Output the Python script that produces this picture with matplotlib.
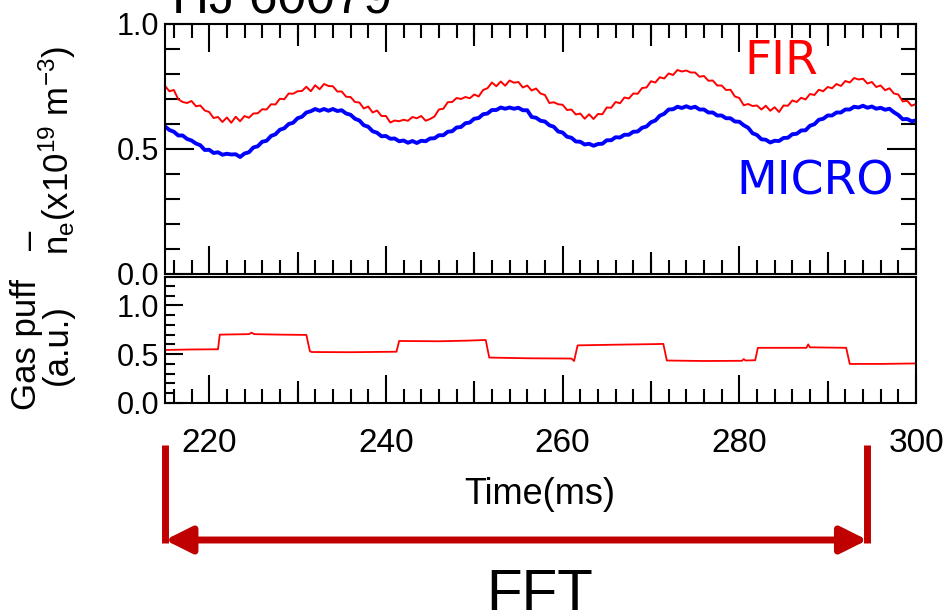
import numpy as np
import matplotlib
matplotlib.use("Agg")
import matplotlib.pyplot as plt
import matplotlib.transforms as mtransforms
from matplotlib import font_manager
from matplotlib.ticker import MultipleLocator, NullFormatter

# ---- data ----
shot = "HJ 60079"
time_step = 0.5
time = np.arange(215.0, 300.0 + 0.01, time_step)

fir = [0.752, 0.731, 0.736, 0.699, 0.688, 0.684, 0.692, 0.671, 0.674, 0.654,
       0.648, 0.624, 0.628, 0.608, 0.626, 0.605, 0.629, 0.611, 0.632, 0.625,
       0.642, 0.643, 0.659, 0.658, 0.679, 0.678, 0.701, 0.699, 0.722, 0.721,
       0.731, 0.732, 0.749, 0.731, 0.755, 0.739, 0.760, 0.752, 0.751, 0.730,
       0.730, 0.709, 0.708, 0.688, 0.686, 0.662, 0.670, 0.646, 0.654, 0.632,
       0.632, 0.606, 0.614, 0.611, 0.617, 0.613, 0.628, 0.623, 0.632, 0.613,
       0.620, 0.630, 0.658, 0.661, 0.687, 0.688, 0.704, 0.700, 0.708, 0.703,
       0.718, 0.710, 0.736, 0.743, 0.766, 0.751, 0.770, 0.753, 0.774, 0.765,
       0.768, 0.746, 0.754, 0.734, 0.742, 0.722, 0.716, 0.684, 0.687, 0.679,
       0.677, 0.656, 0.658, 0.638, 0.642, 0.621, 0.639, 0.620, 0.640, 0.639,
       0.666, 0.665, 0.688, 0.683, 0.706, 0.702, 0.722, 0.721, 0.744, 0.746,
       0.771, 0.766, 0.787, 0.782, 0.802, 0.796, 0.816, 0.810, 0.814, 0.806,
       0.806, 0.789, 0.792, 0.773, 0.774, 0.754, 0.754, 0.736, 0.737, 0.710,
       0.704, 0.675, 0.680, 0.672, 0.674, 0.658, 0.673, 0.653, 0.667, 0.648,
       0.674, 0.673, 0.694, 0.688, 0.705, 0.698, 0.720, 0.716, 0.737, 0.731,
       0.748, 0.743, 0.760, 0.752, 0.772, 0.766, 0.784, 0.778, 0.781, 0.762,
       0.768, 0.748, 0.754, 0.735, 0.743, 0.722, 0.718, 0.690, 0.693, 0.673,
       0.680]

micro = [0.590, 0.576, 0.569, 0.554, 0.554, 0.540, 0.534, 0.522, 0.515, 0.496,
         0.497, 0.484, 0.487, 0.477, 0.481, 0.478, 0.479, 0.468, 0.482, 0.487,
         0.506, 0.511, 0.529, 0.533, 0.552, 0.559, 0.577, 0.583, 0.600, 0.605,
         0.623, 0.629, 0.646, 0.651, 0.660, 0.653, 0.660, 0.653, 0.660, 0.652,
         0.655, 0.642, 0.637, 0.621, 0.614, 0.595, 0.589, 0.571, 0.565, 0.551,
         0.552, 0.541, 0.542, 0.531, 0.534, 0.525, 0.532, 0.524, 0.533, 0.531,
         0.542, 0.543, 0.555, 0.555, 0.569, 0.571, 0.586, 0.588, 0.603, 0.606,
         0.621, 0.624, 0.639, 0.642, 0.656, 0.656, 0.666, 0.661, 0.666, 0.661,
         0.665, 0.655, 0.655, 0.628, 0.625, 0.613, 0.610, 0.595, 0.589, 0.570,
         0.566, 0.549, 0.545, 0.530, 0.529, 0.518, 0.521, 0.513, 0.520, 0.521,
         0.535, 0.535, 0.547, 0.546, 0.557, 0.557, 0.569, 0.570, 0.585, 0.590,
         0.607, 0.614, 0.633, 0.641, 0.658, 0.659, 0.669, 0.664, 0.671, 0.664,
         0.669, 0.658, 0.658, 0.646, 0.646, 0.634, 0.634, 0.623, 0.623, 0.610,
         0.609, 0.595, 0.585, 0.563, 0.556, 0.539, 0.537, 0.526, 0.533, 0.532,
         0.544, 0.545, 0.559, 0.561, 0.574, 0.575, 0.593, 0.599, 0.617, 0.621,
         0.634, 0.634, 0.646, 0.646, 0.658, 0.658, 0.669, 0.666, 0.673, 0.665,
         0.670, 0.661, 0.665, 0.657, 0.661, 0.647, 0.636, 0.619, 0.620, 0.611,
         0.614]

gas_t = [215.0, 218.0, 221.0, 221.2, 224.5, 224.8, 225.1, 228.0, 231.0,
         231.4, 231.6, 236.0, 241.2, 241.5, 246.0, 249.0, 251.3, 251.7,
         256.0, 261.0, 261.3, 261.7, 266.0, 270.5, 271.4, 271.8, 276.0,
         280.3, 280.5, 280.7, 281.8, 282.1, 286.0, 287.6, 287.8, 288.0,
         292.1, 292.5, 296.0, 300.0]
gas = [0.543, 0.548, 0.550, 0.700, 0.705, 0.720, 0.705, 0.700, 0.697,
       0.530, 0.522, 0.520, 0.525, 0.635, 0.632, 0.638, 0.645, 0.465,
       0.458, 0.455, 0.430, 0.590, 0.597, 0.603, 0.605, 0.435, 0.430,
       0.432, 0.450, 0.435, 0.438, 0.565, 0.565, 0.565, 0.600, 0.570,
       0.565, 0.400, 0.400, 0.405]

fft_start, fft_end = 215.0, 294.5

# ---- fonts ----
names = {f.name for f in font_manager.fontManager.ttflist}
sans = "Liberation Sans"
narrow = "Liberation Sans Narrow" if "Liberation Sans Narrow" in names else sans
plt.rcParams["font.family"] = [sans, "DejaVu Sans"]
plt.rcParams["mathtext.default"] = "regular"

fig = plt.figure(figsize=(9.47, 6.11), dpi=100)
W, H = 947.0, 611.0


def box(l, t, r, b):
    return [l / W, 1 - b / H, (r - l) / W, (b - t) / H]


ax1 = fig.add_axes(box(165, 24, 916, 274))
ax2 = fig.add_axes(box(165, 277, 916, 403))

for ax in (ax1, ax2):
    for s in ax.spines.values():
        s.set_linewidth(1.5)
    ax.set_xlim(215, 300)
    ax.xaxis.set_major_locator(MultipleLocator(20))
    ax.xaxis.set_minor_locator(MultipleLocator(2))

# top panel
ax1.plot(time, fir, color="#FF0000", lw=1.4)
ax1.plot(time, micro, color="#0000FF", lw=2.8)
ax1.set_ylim(0, 1.0)
ax1.yaxis.set_major_locator(MultipleLocator(0.5))
ax1.yaxis.set_minor_locator(MultipleLocator(0.1))
ax1.tick_params(which="both", direction="in", top=True, right=True, width=1.5)
ax1.tick_params(axis="x", which="major", length=20, labelbottom=False)
ax1.tick_params(axis="x", which="minor", length=10)
ax1.tick_params(axis="y", which="major", length=21, labelsize=22, pad=4)
ax1.tick_params(axis="y", which="minor", length=11)
ax1.set_yticks([0, 0.5, 1.0])
ax1.set_yticklabels(["0.0", "0.5", "1.0"])
for loc in ("top", "bottom"):
    sec = ax1.secondary_xaxis(loc)
    sec.set_xticks([230, 250, 270, 290])
    sec.tick_params(direction="in", length=16, width=1.5, labelbottom=False, labeltop=False)
    sec.xaxis.set_major_formatter(NullFormatter())
    sec.spines[loc].set_visible(False)

ax1.text(284.8, 0.848, "FIR", color="#FF0000", fontsize=34, family="DejaVu Sans",
         ha="center", va="center")
ax1.text(288.6, 0.368, "MICRO", color="#0000FF", fontsize=34, family="DejaVu Sans",
         ha="center", va="center")

# bottom panel
ax2.plot(gas_t, gas, color="#FF0000", lw=1.3)
ax2.set_ylim(0, 1.29)
ax2.set_yticks([0, 0.5, 1.0])
ax2.set_yticklabels(["0.0", "0.5", "1.0"])
ax2.yaxis.set_minor_locator(MultipleLocator(0.1))
ax2.tick_params(which="both", direction="in", width=1.5)
ax2.tick_params(axis="x", which="major", length=20, labelsize=24, pad=18)
ax2.tick_params(axis="x", which="minor", length=10)
ax2.tick_params(axis="y", which="major", length=13, labelsize=22, pad=4)
ax2.tick_params(axis="y", which="minor", length=7)
sec = ax2.secondary_xaxis("bottom")
sec.set_xticks([230, 250, 270, 290])
sec.tick_params(direction="in", length=16, width=1.5, labelbottom=False)
sec.xaxis.set_major_formatter(NullFormatter())
sec.spines["bottom"].set_visible(False)

# labels
fig.text(57 / W, 1 - 150 / H, r"n$_e$(x10$^{19}$ m$^{-3}$)", rotation=90,
         fontsize=25, ha="center", va="center")
fig.text(30 / W, 1 - 240 / H, "\u2012", rotation=90, fontsize=25,
         ha="center", va="center")
fig.text(42 / W, 1 - 345 / H, "Gas puff\n(a.u.)", rotation=90, fontsize=25,
         ha="center", va="center", linespacing=0.95)
fig.text(540 / W, 1 - 494 / H, "Time(ms)", fontsize=26, family=[narrow, sans],
         ha="center", va="center")
fig.text(172 / W, 1 - 13 / H, shot, fontsize=37, ha="left", va="baseline")
fig.text(540 / W, 1 - 610 / H, "FFT", fontsize=42, family=[narrow, sans],
         ha="center", va="baseline")

# FFT window bracket
blend = mtransforms.blended_transform_factory(ax2.transData, fig.transFigure)
y_top, y_arrow = 1 - 445 / H, 1 - 540 / H
for xv in (fft_start, fft_end):
    ax2.plot([xv, xv], [y_top, y_arrow - 3 / H], color="#C00000", lw=5,
             transform=blend, clip_on=False, solid_capstyle="butt")
ax2.annotate("", xy=(fft_start, y_arrow), xytext=(fft_end, y_arrow),
             xycoords=blend, textcoords=blend,
             arrowprops=dict(arrowstyle="<|-|>,head_length=0.8,head_width=0.4",
                             mutation_scale=20, lw=5, color="#C00000",
                             shrinkA=0, shrinkB=0))

fig.savefig("out.png", dpi=100)
